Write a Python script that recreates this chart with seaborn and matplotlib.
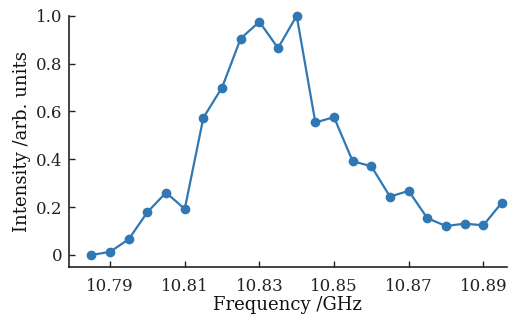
import matplotlib
matplotlib.use("Agg")
import matplotlib.pyplot as plt
import seaborn as sns
import pandas as pd

freq = [10.785, 10.790, 10.795, 10.800, 10.805, 10.810, 10.815, 10.820, 10.825, 10.830,
        10.835, 10.840, 10.845, 10.850, 10.855, 10.860, 10.865, 10.870, 10.875, 10.880,
        10.885, 10.890, 10.895]
intensity = [0.0, 0.013, 0.066, 0.179, 0.261, 0.192, 0.574, 0.70, 0.905, 0.975,
             0.865, 1.0, 0.554, 0.576, 0.392, 0.371, 0.244, 0.268, 0.154, 0.121,
             0.131, 0.124, 0.219]
xticks = [10.79, 10.81, 10.83, 10.85, 10.87, 10.89]
yticks = [0, 0.2, 0.4, 0.6, 0.8, 1.0]
ytick_labels = ["0", "0.2", "0.4", "0.6", "0.8", "1.0"]

sns.set_style("ticks")
plt.rcParams['font.family'] = ['DejaVu Serif']
plt.rcParams['mathtext.fontset'] = 'dejavuserif'

df = pd.DataFrame({"f": freq, "I": intensity})
fig = plt.figure(figsize=(5.23, 3.22), dpi=100)
ax = fig.add_axes([0.132, 0.171, 0.837, 0.78])
sns.lineplot(data=df, x="f", y="I", ax=ax, color="#2f78b4", linewidth=1.6,
             marker="o", markersize=7, markeredgewidth=0, clip_on=False)
ax.set_xlim(10.779, 10.8963)
ax.set_ylim(-0.05, 1.0)
ax.set_xticks(xticks)
ax.set_xticklabels([f"{t:.2f}" for t in xticks])
ax.set_yticks(yticks)
ax.set_yticklabels(ytick_labels)
ax.tick_params(direction="in", length=4, width=1, labelsize=12, colors="#222222")
ax.tick_params(axis="x", pad=8)
ax.tick_params(axis="y", pad=5)
for s in ["top", "right"]:
    ax.spines[s].set_visible(False)
for s in ["left", "bottom"]:
    ax.spines[s].set_linewidth(1.2)
    ax.spines[s].set_color("#222222")
ax.set_xlabel("Frequency /GHz", fontsize=13, labelpad=1, color="#111111")
ax.set_ylabel("Intensity /arb. units", fontsize=13, labelpad=3, color="#111111")
fig.savefig("out.png", dpi=100)
